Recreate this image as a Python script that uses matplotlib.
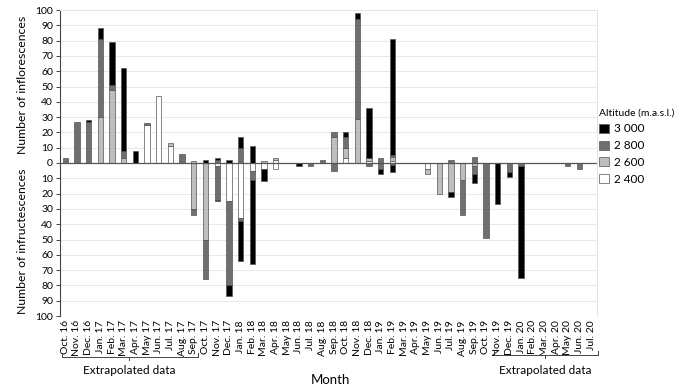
import numpy as np
import matplotlib
matplotlib.use("Agg")
import matplotlib.pyplot as plt
from matplotlib.patches import Patch

plt.rcParams['font.family'] = ['Lato', 'DejaVu Sans']

months = ["Oct. 16", "Nov. 16", "Dec. 16", "Jan. 17", "Feb. 17", "Mar. 17", "Apr. 17", "May 17",
          "Jun. 17", "Jul. 17", "Aug. 17", "Sep. 17", "Oct. 17", "Nov. 17", "Dec. 17", "Jan. 18",
          "Feb. 18", "Mar. 18", "Apr. 18", "May 18", "Jun. 18", "Jul. 18", "Aug. 18", "Sep. 18",
          "Oct. 18", "Nov. 18", "Dec. 18", "Jan. 19", "Feb. 19", "Mar. 19", "Apr. 19", "May 19",
          "Jun. 19", "Jul. 19", "Aug. 19", "Sep. 19", "Oct. 19", "Nov. 19", "Dec. 19", "Jan. 20",
          "Feb. 20", "Mar. 20", "Apr. 20", "May 20", "Jun. 20", "Jul. 20"]
n = len(months)

def series(d):
    a = np.zeros(n)
    for k, v in d.items():
        a[k] = v
    return a

# Inflorescences (upwards)
infl_2400 = series({7: 25, 8: 44, 9: 11, 18: 2, 24: 3, 26: 1, 28: 1})
infl_2600 = series({3: 30, 4: 48, 5: 3, 9: 2, 11: 1, 17: 1, 18: 1, 23: 17, 24: 7, 25: 29, 26: 2, 28: 3})
infl_2800 = series({0: 3, 1: 27, 2: 27, 3: 51, 4: 3, 5: 5, 7: 1, 10: 6, 13: 2, 15: 10, 22: 2, 23: 3,
                    24: 7, 25: 65, 27: 3, 28: 1, 33: 2, 35: 4})
infl_3000 = series({2: 1, 3: 7, 4: 28, 5: 54, 6: 8, 12: 2, 13: 1, 14: 2, 15: 7, 16: 11, 24: 3, 25: 4,
                    26: 33, 28: 76})

# Infructescences (downwards)
infr_2400 = series({13: 2, 14: 25, 15: 36, 16: 5, 17: 4, 18: 4, 31: 4})
infr_2600 = series({11: 30, 12: 50, 31: 3, 32: 20, 33: 19, 34: 11, 35: 2})
infr_2800 = series({11: 4, 12: 26, 13: 22, 14: 55, 15: 2, 16: 6, 21: 2, 23: 5, 26: 2, 27: 4, 28: 1,
                    34: 23, 35: 5, 36: 49, 38: 6, 39: 2, 43: 2, 44: 4})
infr_3000 = series({13: 1, 14: 7, 15: 26, 16: 55, 17: 8, 20: 2, 27: 3, 28: 5, 33: 3, 35: 6, 37: 27,
                    38: 3, 39: 73})

altitudes = ["3 000", "2 800", "2 600", "2 400"]
colors = {"2 400": "#ffffff", "2 600": "#bebebe", "2 800": "#6f6f6f", "3 000": "#000000"}
edge = "#555555"

fig = plt.figure(figsize=(6.79, 3.91), dpi=100)
ax = fig.add_axes([60/679, 1-316/391, (597-60)/679, (316-10)/391])

x = np.arange(n)
w = 0.45
up = [("2 400", infl_2400), ("2 600", infl_2600), ("2 800", infl_2800), ("3 000", infl_3000)]
dn = [("2 400", infr_2400), ("2 600", infr_2600), ("2 800", infr_2800), ("3 000", infr_3000)]

bottom = np.zeros(n)
for name, vals in up:
    m = vals > 0
    ax.bar(x[m], vals[m], w, bottom=bottom[m], color=colors[name], edgecolor=edge, linewidth=0.5, zorder=3)
    bottom += vals
bottom = np.zeros(n)
for name, vals in dn:
    m = vals > 0
    ax.bar(x[m], -vals[m], w, bottom=bottom[m], color=colors[name], edgecolor=edge, linewidth=0.5, zorder=3)
    bottom -= vals

ax.set_xlim(-0.45, 45.5)
ax.set_ylim(-100, 100)
yt = np.arange(-100, 101, 10)
ax.set_yticks(yt)
ax.set_yticklabels([str(abs(v)) for v in yt], fontsize=7.5)
for v in yt:
    if v != 0:
        ax.axhline(v, color="#e8e8e8", linewidth=0.7, zorder=0)
ax.axhline(0, color="#555555", linewidth=0.9, zorder=4)

ax.set_xticks(x)
ax.set_xticklabels(months, rotation=90, fontsize=7.5)
ax.tick_params(axis='x', length=0, pad=3)
ax.tick_params(axis='y', length=3, width=0.7, color="#444444", pad=2)

for s in ["top", "right"]:
    ax.spines[s].set_color("#e4e4e4")
    ax.spines[s].set_linewidth(0.7)
ax.spines["bottom"].set_visible(False)
ax.spines["left"].set_color("#444444")
ax.spines["left"].set_linewidth(0.8)

fig.text(22/679, 1-85/391, "Number of inflorescences", rotation=90, ha="center", va="center", fontsize=8.8)
fig.text(22/679, 1-241/391, "Number of infructescences", rotation=90, ha="center", va="center", fontsize=8.8)
fig.text(330/679, 1-380/391, "Month", ha="center", va="center", fontsize=9.5)

# Extrapolated brackets
def bracket(x0, x1, xc, y, ty):
    yb = 1 - y/391
    fig.add_artist(plt.Line2D([x0/679, x1/679], [yb, yb], color="#444444", lw=0.7))
    for xx in (x0, x1):
        fig.add_artist(plt.Line2D([xx/679, xx/679], [yb, yb + 4/391], color="#444444", lw=0.7))
    fig.add_artist(plt.Line2D([xc/679, xc/679], [yb, yb - 3/391], color="#444444", lw=0.7))
    fig.text(xc/679, 1-ty/391, "Extrapolated data", ha="center", va="center", fontsize=8.5)

bracket(62, 198, 129, 357, 371)
bracket(494, 598, 545, 355, 370)

handles = [Patch(facecolor=colors[a], edgecolor=edge, linewidth=0.5) for a in altitudes]
leg = fig.legend(handles, altitudes, loc="upper left", bbox_to_anchor=(597/679, 1-106/391),
                 frameon=False, fontsize=8.5, title="Altitude (m.a.s.l.)", title_fontsize=7.5,
                 handlelength=0.8, handleheight=0.8, handletextpad=0.4, labelspacing=0.5,
                 alignment="left", borderpad=0.1, borderaxespad=0.1)

fig.savefig("out.png", dpi=100)
